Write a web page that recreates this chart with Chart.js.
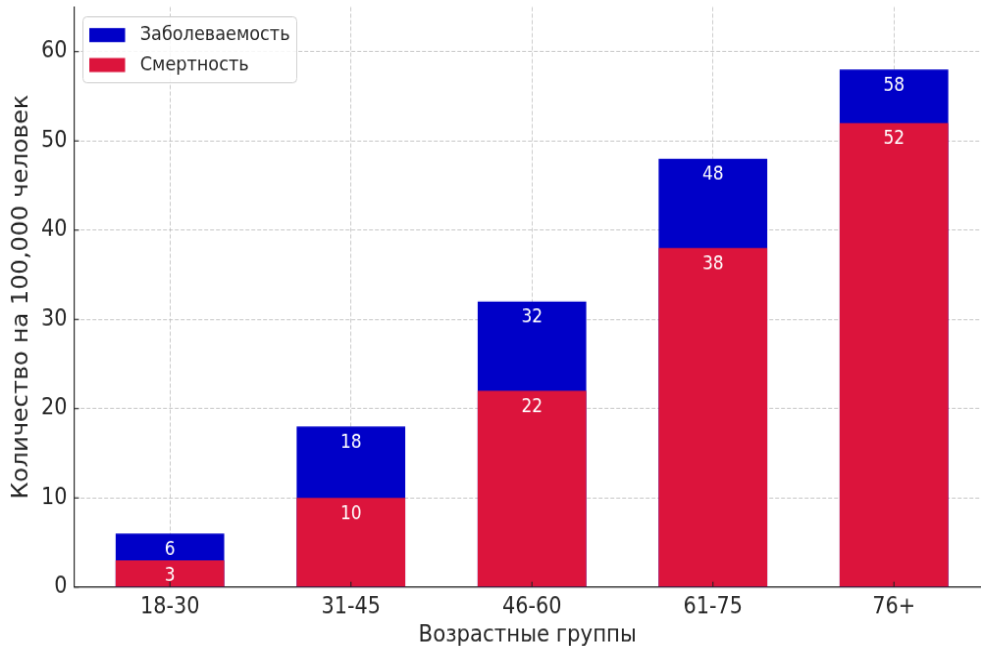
<!DOCTYPE html>
<html>
<head>
<meta charset="utf-8">
<script src="https://cdn.jsdelivr.net/npm/chart.js@4/dist/chart.umd.min.js"></script>
<style>
  html, body { margin: 0; padding: 0; background: #fff; overflow: hidden; }
  #page { width: 981px; height: 649px; overflow: hidden; position: relative; }
  /* the figure is laid out at 1000x600 and stretched to the page */
  #fig { width: 1000px; height: 600px; transform-origin: 0 0; transform: scale(0.981, 1.0817); }
</style>
</head>
<body>
<div id="page"><div id="fig"><canvas id="c" width="1000" height="600"></canvas></div></div>
<script>
// Age groups and rates per 100,000 people
const ageGroups = ['18-30', '31-45', '46-60', '61-75', '76+'];
const incidence = [6, 18, 32, 48, 58];
const mortality = [3, 10, 22, 38, 52];
const yTicks = [0, 10, 20, 30, 40, 50, 60];
const seriesNames = ['Заболеваемость', 'Смертность'];
const seriesColors = ['#0000c8', '#dc143c'];

const FONT = "'DejaVu Sans', sans-serif";
const TEXT = '#262626';
const toPoints = vals => vals.map((v, i) => ({ x: i, y: v }));

// Value labels just inside the top of each bar
const valueLabels = {
  id: 'valueLabels',
  afterDatasetsDraw(chart) {
    const ctx = chart.ctx;
    ctx.save();
    ctx.fillStyle = '#ffffff';
    ctx.font = '17px ' + FONT;
    ctx.textAlign = 'center';
    ctx.textBaseline = 'middle';
    chart.data.datasets.forEach((ds, di) => {
      const meta = chart.getDatasetMeta(di);
      meta.data.forEach((el, i) => {
        const v = ds.data[i].y;
        ctx.fillText(String(v), el.x, chart.scales.y.getPixelForValue(v) + 15);
      });
    });
    ctx.restore();
  }
};

// Inward tick marks and the framed legend
const decorations = {
  id: 'decorations',
  afterDraw(chart) {
    const ctx = chart.ctx;
    const a = chart.chartArea;
    const xs = chart.scales.x, ys = chart.scales.y;
    ctx.save();
    ctx.strokeStyle = '#222';
    ctx.lineWidth = 1.1;
    ctx.beginPath();
    ageGroups.forEach((g, i) => {
      const px = xs.getPixelForValue(i);
      ctx.moveTo(px, a.bottom);
      ctx.lineTo(px, a.bottom - 5);
    });
    yTicks.forEach(t => {
      const py = ys.getPixelForValue(t);
      ctx.moveTo(a.left, py);
      ctx.lineTo(a.left + 5, py);
    });
    ctx.stroke();

    // legend frame
    const bx = 84.5, by = 15.5, bw = 218, bh = 61, r = 4;
    ctx.beginPath();
    ctx.moveTo(bx + r, by);
    ctx.arcTo(bx + bw, by, bx + bw, by + bh, r);
    ctx.arcTo(bx + bw, by + bh, bx, by + bh, r);
    ctx.arcTo(bx, by + bh, bx, by, r);
    ctx.arcTo(bx, by, bx + bw, by, r);
    ctx.closePath();
    ctx.fillStyle = 'rgba(255,255,255,0.85)';
    ctx.fill();
    ctx.strokeStyle = '#d0d0d0';
    ctx.lineWidth = 1;
    ctx.stroke();

    ctx.font = '17.7px ' + FONT;
    ctx.textAlign = 'left';
    ctx.textBaseline = 'middle';
    seriesNames.forEach((name, i) => {
      const cy = 32.4 + i * 27.7;
      ctx.fillStyle = seriesColors[i];
      ctx.fillRect(91, cy - 6.5, 36.5, 13);
      ctx.fillStyle = TEXT;
      ctx.fillText(name, 142.7, cy);
    });
    ctx.restore();
  }
};

new Chart(document.getElementById('c'), {
  type: 'bar',
  data: {
    datasets: [
      { label: seriesNames[0], data: toPoints(incidence), backgroundColor: seriesColors[0], order: 2 },
      { label: seriesNames[1], data: toPoints(mortality), backgroundColor: seriesColors[1], order: 1 }
    ]
  },
  options: {
    responsive: false,
    animation: false,
    events: [],
    layout: { padding: { top: 6.5, right: 0, left: 0, bottom: 0 } },
    datasets: { bar: { grouped: false, barPercentage: 0.6, categoryPercentage: 1 } },
    plugins: { legend: { display: false }, tooltip: { enabled: false } },
    scales: {
      x: {
        type: 'linear',
        offset: false,
        min: -0.53,
        max: 4.481,
        z: 1,
        afterBuildTicks: s => { s.ticks = ageGroups.map((g, i) => ({ value: i })); },
        afterFit: s => { s.height = 57.3; s.paddingLeft = 0; s.paddingRight = 0; },
        ticks: {
          callback: v => ageGroups[v],
          font: { family: FONT, size: 20.8 },
          color: TEXT,
          padding: 6,
          maxRotation: 0
        },
        grid: { offset: false, color: 'rgba(175,175,175,0.65)', lineWidth: 1, drawTicks: false },
        border: { display: true, color: '#222', width: 1.2, dash: [4, 2] },
        title: {
          display: true,
          text: 'Возрастные группы',
          font: { family: FONT, size: 21.3 },
          color: TEXT,
          padding: { top: 6.5, bottom: 0 }
        }
      },
      y: {
        min: 0,
        max: 65,
        z: 1,
        afterBuildTicks: s => { s.ticks = yTicks.map(v => ({ value: v })); },
        afterFit: s => { s.width = 75.4; s.paddingTop = 0; s.paddingBottom = 0; },
        ticks: {
          font: { family: FONT, size: 20.8 },
          color: TEXT,
          padding: 7
        },
        grid: { color: 'rgba(175,175,175,0.65)', lineWidth: 1, drawTicks: false },
        border: { display: true, color: '#222', width: 1.2, dash: [4, 2] },
        title: {
          display: true,
          text: 'Количество на 100,000 человек',
          font: { family: FONT, size: 22.3 },
          color: TEXT,
          padding: { top: 9, bottom: 0 }
        }
      }
    }
  },
  plugins: [valueLabels, decorations]
});
</script>
</body>
</html>
